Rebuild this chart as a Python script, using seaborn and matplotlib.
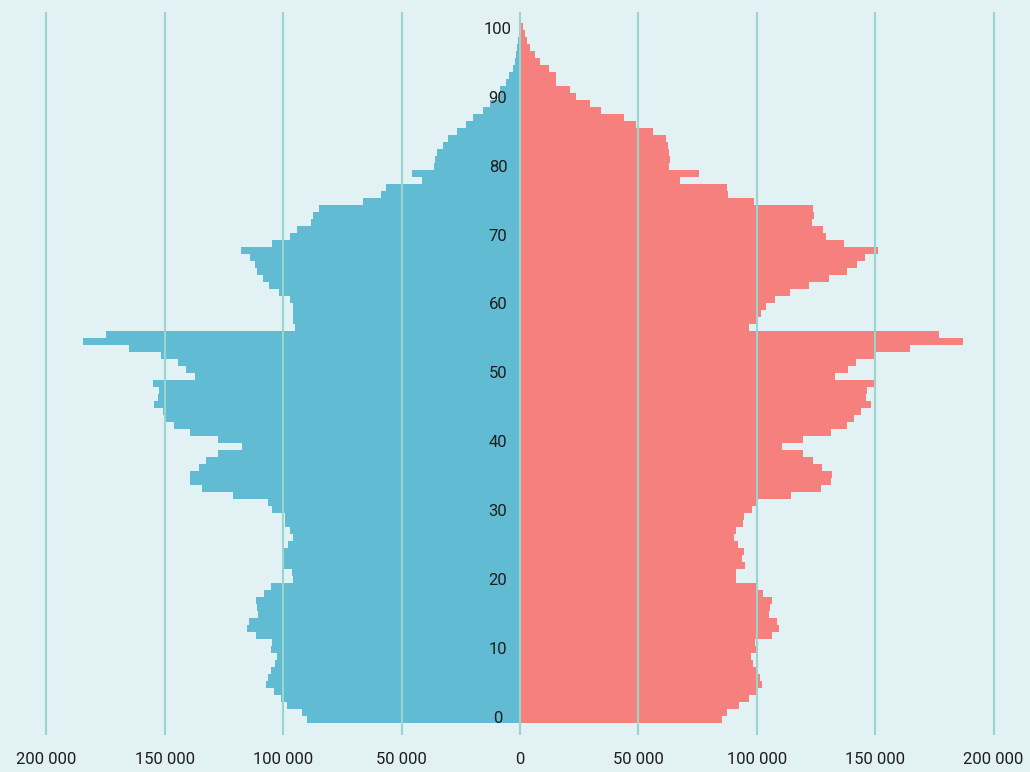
import matplotlib
matplotlib.use("Agg")
import matplotlib.pyplot as plt
import matplotlib.transforms as mtransforms
import numpy as np
import pandas as pd
import seaborn as sns

# Population by single year of age (0-99)
ages = list(range(0, 100))

men = [
    89900, 92000, 98300, 100800, 103800, 107200, 106300, 105000, 103400, 102500,
    105100, 104700, 111400, 115200, 114400, 110800, 111000, 111400, 108000, 105100,
    95800, 96200, 100400, 99600, 99600, 97800, 95900, 97100, 99200, 99200,
    104800, 106200, 121100, 134200, 139300, 139500, 135600, 132400, 127600, 117200,
    127600, 139500, 145900, 149700, 150700, 154600, 152800, 152500, 155000, 137400,
    141200, 144300, 151400, 165000, 184400, 174600, 94800, 95700, 96000, 96000,
    97000, 101600, 105900, 108500, 111000, 112000, 113900, 117700, 104700, 97300,
    94200, 88200, 87500, 84900, 66100, 58900, 56500, 41200, 45400, 36400,
    36000, 35000, 32600, 30500, 26500, 22800, 19800, 15600, 12700, 9000,
    8500, 5900, 4500, 3100, 2200, 1700, 1100, 700, 400, 200,
]

women = [
    85500, 87600, 92400, 96600, 99600, 102100, 101300, 99600, 98300, 97500,
    99600, 99200, 106500, 109300, 108600, 105200, 105600, 106500, 102800, 99600,
    91200, 91200, 94800, 93800, 94400, 91900, 90400, 91400, 94000, 94400,
    98000, 99600, 114600, 127200, 131200, 131700, 127600, 123900, 119700, 110600,
    119700, 131200, 138000, 141100, 144000, 148100, 146000, 146600, 149800, 132800,
    138300, 141900, 150000, 164600, 187100, 176800, 96600, 100700, 101700, 103800,
    107600, 113900, 122200, 130400, 137900, 142500, 145600, 151100, 137000, 129400,
    128100, 123100, 124300, 123900, 98800, 87900, 87600, 67500, 75500, 63000,
    63400, 62900, 62300, 61700, 56000, 48800, 43900, 34200, 29500, 23500,
    21100, 15000, 15200, 12100, 8400, 6500, 4400, 3000, 2300, 1300,
]

x_ticks = [-200000, -150000, -100000, -50000, 0, 50000, 100000, 150000, 200000]
age_ticks = list(range(0, 101, 10))

BG = "#E1F1F4"
BLUE = "#61BCD3"
RED = "#F5807E"
GRID = "#9BD6CE"
TEXT = "#1E1E1E"

sns.set_theme(style="white")
plt.rcParams["font.family"] = ["Roboto", "DejaVu Sans"]

df_men = pd.DataFrame({"age": ages, "value": [-v for v in men]})
df_women = pd.DataFrame({"age": ages, "value": women})

fig = plt.figure(figsize=(10.30, 7.72), dpi=100, facecolor=BG)
rect = [0.022, 0.0479, 0.9657, 0.9366]
ax = fig.add_axes(rect)
ax.set_facecolor(BG)

common = dict(x="value", y="age", orient="y", native_scale=True, width=1.0,
              linewidth=0, saturation=1, errorbar=None, ax=ax)
sns.barplot(data=df_men, color=BLUE, **common)
sns.barplot(data=df_women, color=RED, **common)

ax.set_xlim(-210000, 210000)
ax.set_ylim(-2.21, 101.07)

# vertical guide lines drawn over the bars
ax.set_xticks(x_ticks)
ax.set_xticklabels([f"{abs(v):,}".replace(",", " ") for v in x_ticks])
ax.set_axisbelow(False)
ax.grid(axis="x", color=GRID, linewidth=1.5)
ax.grid(axis="y", visible=False)
ax.tick_params(axis="x", length=0, pad=12, labelsize=12, labelcolor=TEXT)

ax.set_yticks([])
ax.set_xlabel("")
ax.set_ylabel("")
for s in ax.spines.values():
    s.set_visible(False)

# age scale along the centre line, on its own transparent layer
lab = fig.add_axes(rect, sharex=ax)
lab.patch.set_visible(False)
lab.set_ylim(-2.47, 102.54)
lab.axis("off")
label_tr = mtransforms.offset_copy(lab.transData, fig=fig, x=-22, y=0, units="dots")
for a in age_ticks:
    lab.text(0, a, str(a), transform=label_tr, ha="center", va="center",
             fontsize=12, color=TEXT, zorder=5)

fig.savefig("out.png", dpi=100, facecolor=BG)
